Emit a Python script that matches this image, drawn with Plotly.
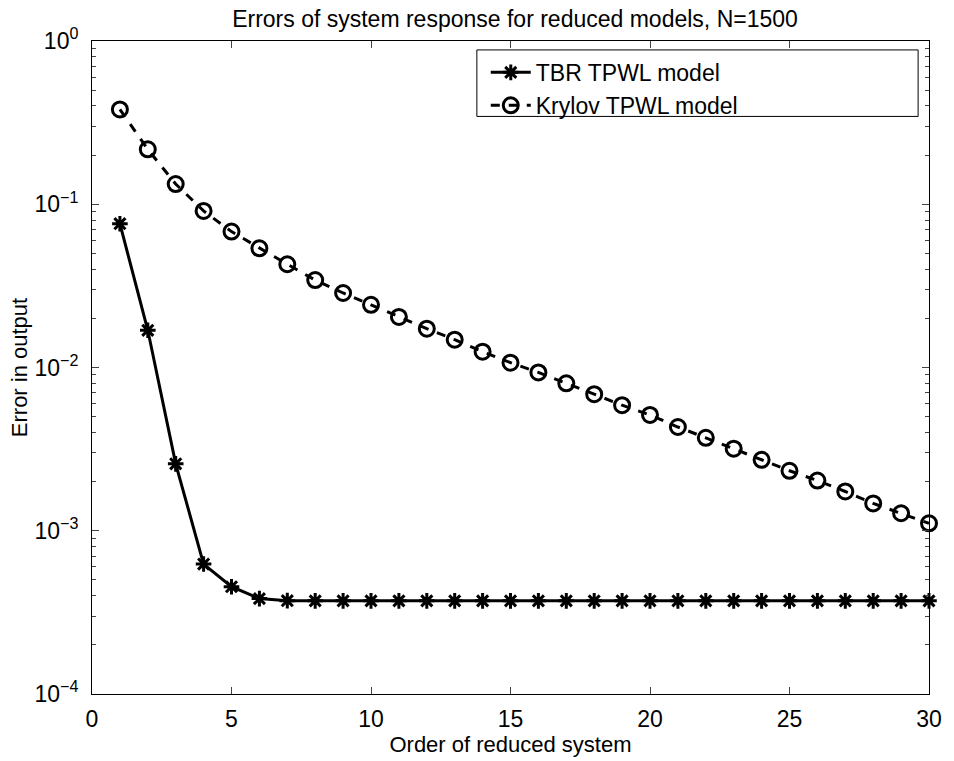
import plotly.graph_objects as go

orders = list(range(1, 31))
tbr_err = [0.076, 0.0169, 0.00257, 0.000625, 0.000454, 0.000384, 0.000373,
           0.000372, 0.000372, 0.000372, 0.000372, 0.000372, 0.000372, 0.000372,
           0.000372, 0.000372, 0.000372, 0.000372, 0.000372, 0.000372, 0.000372,
           0.000372, 0.000372, 0.000372, 0.000372, 0.000372, 0.000372, 0.000372,
           0.000372, 0.000372]
krylov_err = [0.381, 0.217, 0.133, 0.091, 0.068, 0.0537, 0.0429, 0.0343, 0.0286,
              0.0242, 0.0204, 0.0173, 0.0148, 0.0125, 0.0107, 0.00933, 0.0080,
              0.00686, 0.00588, 0.00512, 0.00432, 0.00371, 0.00318, 0.00272,
              0.00233, 0.00203, 0.00174, 0.00147, 0.00128, 0.00111]
xticks = [0, 5, 10, 15, 20, 25, 30]
ytick_vals = [1e-4, 1e-3, 1e-2, 1e-1, 1]
ytick_text = ["10<sup>\u22124</sup>", "10<sup>\u22123</sup>", "10<sup>\u22122</sup>",
              "10<sup>\u22121</sup>", "10<sup>0</sup>"]

FONT = "Liberation Sans, Arial, sans-serif"
L, R, T, B = 92, 938, 41, 699
W, H = 954, 761


def px_x(p):
    return (p - L) / (R - L)


def px_y(p):
    return (B - p) / (B - T)


fig = go.Figure()
fig.add_trace(go.Scatter(
    x=orders, y=tbr_err, name="TBR TPWL model", mode="lines+markers",
    line=dict(color="black", width=3),
    marker=dict(symbol="asterisk-open", size=13, color="black",
                line=dict(color="black", width=3)),
    cliponaxis=False))
fig.add_trace(go.Scatter(
    x=orders, y=krylov_err, name="Krylov TPWL model", mode="lines+markers",
    line=dict(color="black", width=3, dash="9px,9px"),
    marker=dict(symbol="circle-open", size=15, color="black",
                line=dict(color="black", width=3)),
    cliponaxis=False))

fig.add_shape(type="rect", xref="paper", yref="paper",
              x0=px_x(481), x1=px_x(927), y0=px_y(117), y1=px_y(50),
              line=dict(color="black", width=1), fillcolor="white", layer="below")

fig.update_layout(
    width=W, height=H,
    margin=dict(l=L, r=W - R, t=T, b=H - B),
    paper_bgcolor="white", plot_bgcolor="white",
    font=dict(family=FONT, size=22, color="black"),
    title=dict(text="Errors of system response for reduced models, N=1500",
               x=(L + R) / 2 / W, xanchor="center", y=1 - 19 / H,
               yanchor="middle", font=dict(size=23)),
    showlegend=True,
    legend=dict(x=px_x(490), y=px_y(51), xanchor="left", yanchor="top",
                bgcolor="rgba(0,0,0,0)", borderwidth=0,
                font=dict(size=23), tracegroupgap=0, itemwidth=40),
    xaxis=dict(range=[0, 30], tickvals=xticks, ticks="inside", ticklen=7,
               showline=True, linecolor="black", linewidth=1, mirror="ticks",
               showgrid=False, zeroline=False, tickfont=dict(size=23),
               ticklabelstandoff=4,
               title=dict(text="Order of reduced system", font=dict(size=22),
                          standoff=2)),
    yaxis=dict(type="log", range=[-4, 0], tickvals=ytick_vals, ticktext=ytick_text,
               ticks="inside", ticklen=7, showline=True, linecolor="black",
               linewidth=1, mirror="ticks", showgrid=False, zeroline=False,
               tickfont=dict(size=23), ticklabelstandoff=8,
               minor=dict(ticks="inside", ticklen=4, dtick="D1", showgrid=False),
               title=dict(text="Error in output", font=dict(size=22), standoff=0)),
)

fig.write_html("out.html")
